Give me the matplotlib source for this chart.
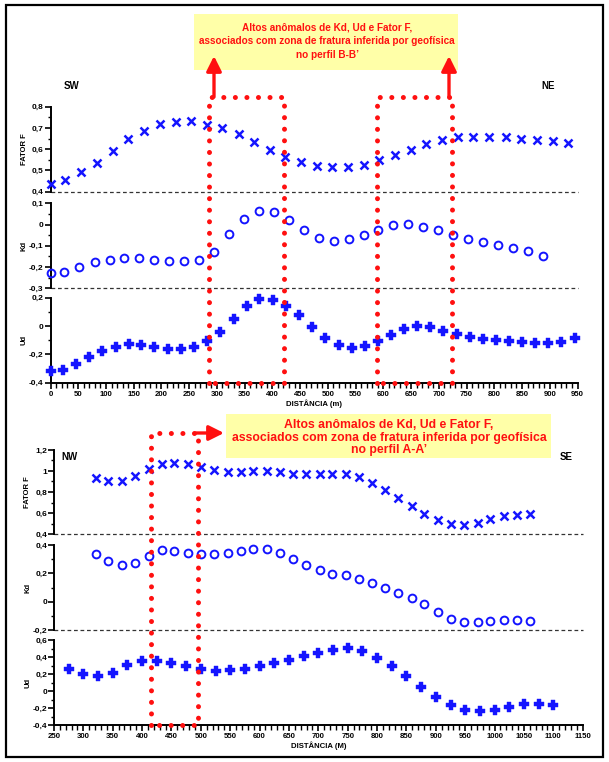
import matplotlib
matplotlib.use("Agg")
import matplotlib.pyplot as plt
from matplotlib.ticker import MultipleLocator, FuncFormatter
from matplotlib.transforms import blended_transform_factory
from matplotlib.patches import Rectangle

plt.rcParams.update({"font.family": ["Liberation Sans", "DejaVu Sans"], "font.weight": "bold"})

# ---- perfil B-B' (topo) ----
top_ff_x = [0, 27, 55, 83, 113, 140, 169, 197, 226, 253, 282, 310, 339, 367, 396, 423, 452,
            480, 508, 536, 565, 592, 621, 650, 677, 706, 735, 762, 791, 821, 848, 877, 906, 933]
top_ff = [0.435, 0.455, 0.493, 0.536, 0.593, 0.647, 0.687, 0.72, 0.73, 0.731, 0.715, 0.70, 0.67,
          0.634, 0.596, 0.565, 0.54, 0.521, 0.515, 0.518, 0.527, 0.548, 0.571, 0.595, 0.623,
          0.642, 0.656, 0.659, 0.659, 0.656, 0.65, 0.645, 0.639, 0.63]
top_kd_x = [0, 25, 52, 80, 107, 133, 160, 187, 214, 241, 268, 295, 322, 349, 376, 403, 430,
            457, 484, 511, 538, 565, 591, 618, 645, 672, 699, 726, 753, 780, 807, 834, 861, 888]
top_kd = [-0.227, -0.222, -0.199, -0.178, -0.167, -0.158, -0.159, -0.166, -0.170, -0.173,
          -0.169, -0.129, -0.046, 0.027, 0.064, 0.059, 0.021, -0.026, -0.065, -0.078, -0.068,
          -0.048, -0.024, -0.004, 0.001, -0.010, -0.027, -0.049, -0.068, -0.082, -0.096,
          -0.111, -0.126, -0.147]
top_ud_x = [0, 22, 46, 70, 93, 118, 141, 164, 187, 211, 235, 259, 283, 306, 330, 354, 376, 401,
            424, 448, 472, 495, 520, 543, 567, 590, 614, 638, 661, 684, 708, 732, 756, 779, 803,
            827, 850, 874, 897, 921, 946]
top_ud = [-0.32, -0.31, -0.268, -0.219, -0.176, -0.148, -0.129, -0.132, -0.15, -0.165, -0.165,
          -0.148, -0.108, -0.04, 0.052, 0.143, 0.19, 0.186, 0.143, 0.08, -0.005, -0.085, -0.136,
          -0.155, -0.141, -0.108, -0.061, -0.024, -0.002, -0.009, -0.033, -0.054, -0.078,
          -0.09, -0.097, -0.104, -0.115, -0.122, -0.12, -0.111, -0.087]
top_zones = [(285, 421), (588, 724)]

# ---- perfil A-A' (baixo) ----
bot_x = [321, 342, 365, 388, 411, 433, 454, 478, 500, 523, 546, 568, 589, 612, 635, 657, 679,
         702, 724, 747, 769, 791, 814, 836, 859, 880, 903, 926, 948, 971, 993, 1016, 1038, 1060]
bot_ff = [0.936, 0.908, 0.908, 0.952, 1.019, 1.07, 1.076, 1.064, 1.035, 1.007, 0.988, 0.99,
          0.997, 1.0, 0.988, 0.974, 0.969, 0.969, 0.969, 0.974, 0.94, 0.883, 0.819, 0.743,
          0.667, 0.594, 0.533, 0.492, 0.483, 0.502, 0.54, 0.569, 0.584, 0.587]
bot_kd = [0.334, 0.287, 0.257, 0.273, 0.325, 0.363, 0.358, 0.344, 0.337, 0.337, 0.346, 0.36,
          0.374, 0.37, 0.342, 0.299, 0.259, 0.224, 0.195, 0.188, 0.162, 0.132, 0.099, 0.064,
          0.024, -0.018, -0.075, -0.12, -0.143, -0.146, -0.136, -0.132, -0.132, -0.134]
bot_ud_x = [275, 300, 325, 350, 375, 400, 425, 450, 475, 500, 525, 550, 575, 600, 625, 650, 675,
            700, 725, 750, 775, 800, 825, 850, 875, 900, 925, 950, 975, 1000, 1025, 1050, 1075, 1100]
bot_ud = [0.255, 0.2, 0.176, 0.215, 0.302, 0.353, 0.353, 0.326, 0.294, 0.263, 0.239, 0.243,
          0.263, 0.298, 0.325, 0.365, 0.412, 0.451, 0.482, 0.51, 0.471, 0.388, 0.29, 0.176,
          0.051, -0.067, -0.165, -0.22, -0.239, -0.22, -0.184, -0.153, -0.149, -0.165]
bot_zones = [(415, 495)]

TXT = "Altos anômalos de Kd, Ud e Fator F,\nassociados com zona de fratura inferida por geofísica\nno perfil "
BLUE = "#1414ff"; RED = "#ff1010"; YEL = "#ffffa8"

W, H = 609, 762
fig = plt.figure(figsize=(W / 100, H / 100), dpi=100)

def rect(l, r, t, b):
    return [l / W, 1 - b / H, (r - l) / W, (b - t) / H]

def comma(v, pos):
    v = round(v, 3)
    if abs(v) < 1e-9:
        return "0"
    return f"{v:g}".replace(".", ",")

def panel(l, r, t, b, xlim, ylim, major, minor, label, bottom=False):
    ax = fig.add_axes(rect(l, r, t, b))
    ax.set_xlim(xlim); ax.set_ylim(ylim); ax.patch.set_alpha(0)
    for s in ["top", "right"]:
        ax.spines[s].set_visible(False)
    ax.spines["left"].set_linewidth(1.4)
    ax.yaxis.set_major_locator(MultipleLocator(major))
    ax.yaxis.set_minor_locator(MultipleLocator(minor))
    ax.yaxis.set_major_formatter(FuncFormatter(comma))
    ax.tick_params(axis="y", which="major", length=4, width=1.2, labelsize=6, pad=1)
    ax.tick_params(axis="y", which="minor", length=2.5, width=1.0)
    ax.set_ylabel(label, fontsize=5.5, fontweight="bold")
    ax.yaxis.set_label_coords(-23 / (r - l), 0.5)
    if bottom:
        ax.spines["bottom"].set_linewidth(1.4)
        ax.xaxis.set_major_locator(MultipleLocator(50))
        ax.xaxis.set_minor_locator(MultipleLocator(10))
        ax.xaxis.set_major_formatter(FuncFormatter(comma))
        ax.tick_params(axis="x", which="major", length=4.5, width=1.2, labelsize=5.6, pad=1.5)
        ax.tick_params(axis="x", which="minor", length=3.5, width=1.0)
    else:
        ax.spines["bottom"].set_visible(False)
        ax.tick_params(axis="x", which="both", bottom=False, labelbottom=False)
        ax.axhline(ylim[0], color="#333333", lw=0.9, ls=(0, (3, 2.2)), clip_on=False)
    return ax

def pts(ax, x, y, m, ms, mew, filled=False):
    ax.plot(x, y, ls="none", marker=m, ms=ms, mew=mew, color=BLUE,
            mfc=BLUE if filled else "none", clip_on=False, zorder=5)

# top panels
t_ff = panel(50.5, 577.5, 106.7, 191.7, (0, 950), (0.4, 0.8), 0.1, 0.05, "FATOR F")
t_kd = panel(50.5, 577.5, 203.3, 288.3, (0, 950), (-0.3, 0.1), 0.1, 0.05, "Kd")
t_ud = panel(50.5, 577.5, 297.7, 382.7, (0, 950), (-0.4, 0.2), 0.2, 0.1, "Ud", bottom=True)
pts(t_ff, top_ff_x, top_ff, "x", 5.5, 1.8)
pts(t_kd, top_kd_x, top_kd, "o", 5.6, 1.4)
pts(t_ud, top_ud_x, top_ud, "P", 6.5, 0.3, filled=True)
t_ud.set_xlabel("DISTÂNCIA (m)", fontsize=5.6, fontweight="bold", labelpad=1)

# bottom panels
b_ff = panel(54, 582.7, 450, 534, (250, 1150), (0.4, 1.2), 0.2, 0.1, "FATOR F")
b_kd = panel(54, 582.7, 545, 630, (250, 1150), (-0.2, 0.4), 0.2, 0.1, "Kd")
b_ud = panel(54, 582.7, 640, 725, (250, 1150), (-0.4, 0.6), 0.2, 0.1, "Ud", bottom=True)
pts(b_ff, bot_x, bot_ff, "x", 5.5, 1.8)
pts(b_kd, bot_x, bot_kd, "o", 5.6, 1.4)
pts(b_ud, bot_ud_x, bot_ud, "P", 6.5, 0.3, filled=True)
b_ud.set_xlabel("DISTÂNCIA (M)", fontsize=5.6, fontweight="bold", labelpad=1)

# overlay in pixel coordinates
ov = fig.add_axes([0, 0, 1, 1], zorder=10)
ov.set_xlim(0, W); ov.set_ylim(H, 0); ov.axis("off"); ov.patch.set_alpha(0)
ov.add_patch(Rectangle((6, 5), 597, 752, fill=False, ec="black", lw=1.6))

dot = dict(color=RED, lw=3.6, ls=(0, (0.01, 2.3)), dash_capstyle="round", solid_capstyle="round")
for ax_ud, zones, top in [(t_ud, top_zones, 96.7), (b_ud, bot_zones, 432.7)]:
    tr = blended_transform_factory(ax_ud.transData, ov.transData)
    bot = ov.transData.inverted().transform(ax_ud.transAxes.transform((0, 0)))[1]
    for a, b in zones:
        ov.plot([a, a, b, b, a], [bot, top, top, bot, bot], transform=tr, **dot)

# yellow boxes and arrows
ov.add_patch(Rectangle((194, 14), 264, 56, fc=YEL, ec="none"))
ov.text(327, 41, TXT + "B-B’", color=RED, fontsize=7.2, ha="center", va="center",
        linespacing=1.45, fontweight="bold")
ov.add_patch(Rectangle((226, 414), 325, 44, fc=YEL, ec="none"))
ov.text(389, 437.5, TXT + "A-A’", color=RED, fontsize=8.8, ha="center", va="center",
        linespacing=1.02, fontweight="bold")
arr = dict(arrowstyle="-|>,head_length=0.9,head_width=0.45", color=RED, lw=2.4, shrinkA=0, shrinkB=0)
ov.annotate("", xy=(214, 56), xytext=(214, 97), arrowprops=arr)
ov.annotate("", xy=(449, 56), xytext=(449, 97), arrowprops=arr)
ov.annotate("", xy=(224, 433), xytext=(196, 433), arrowprops=arr)

for s, x, y in [("SW", 72, 86), ("NE", 548, 86), ("NW", 70, 457), ("SE", 566, 457)]:
    ov.text(x, y, s, fontsize=7, ha="center", va="center", fontweight="bold")

fig.savefig("out.png", dpi=100)
